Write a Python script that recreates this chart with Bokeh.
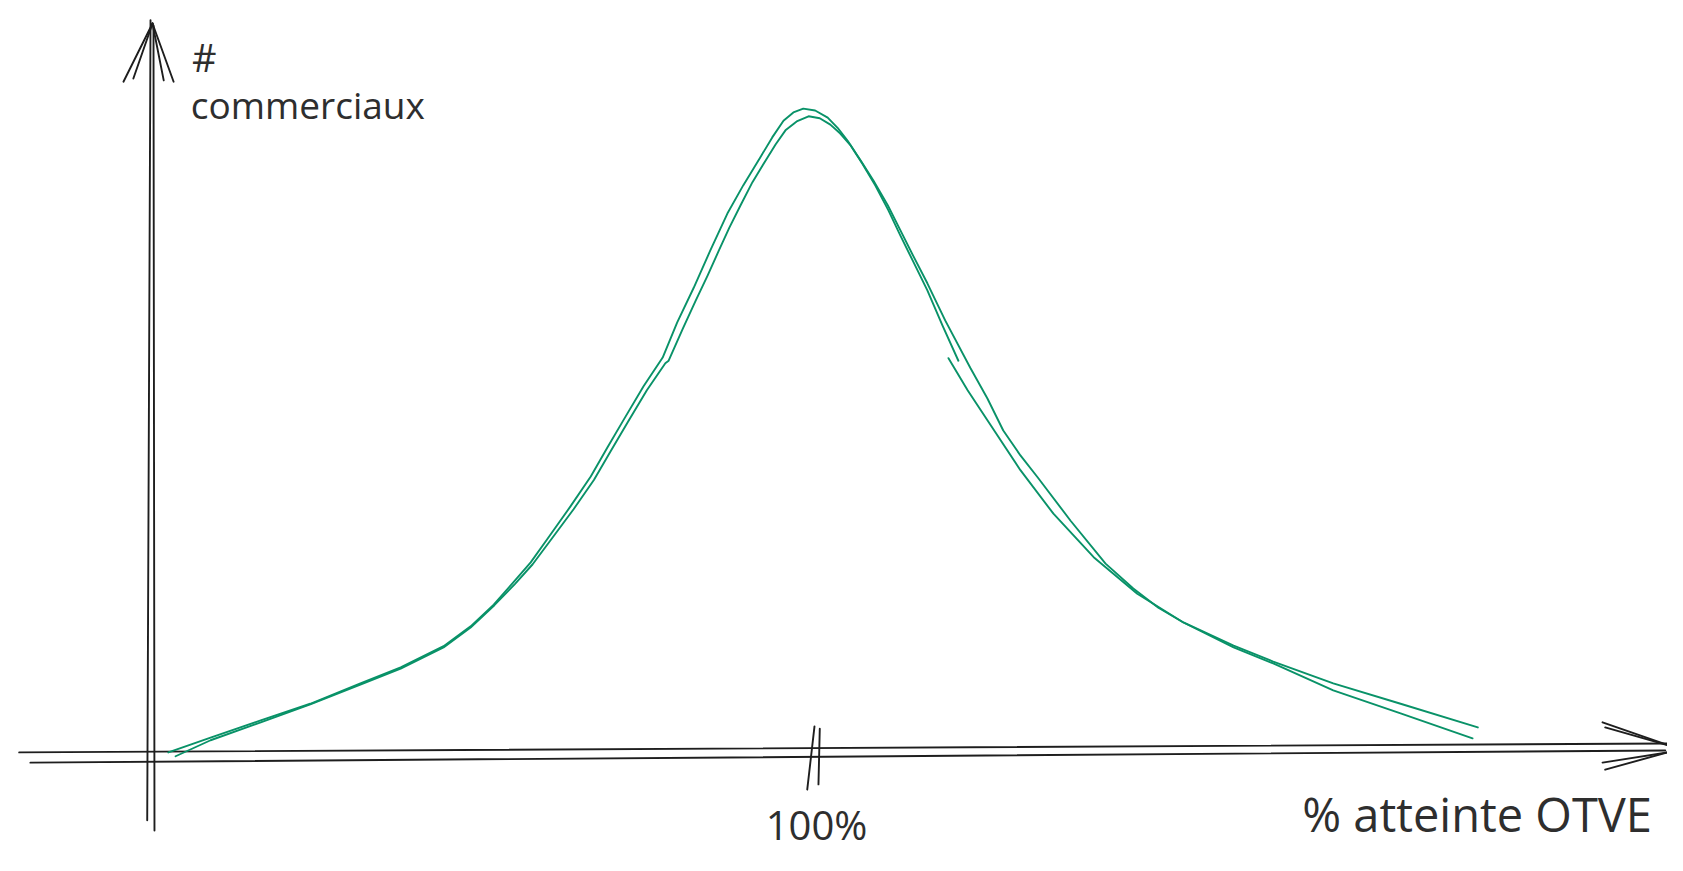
from bokeh.plotting import figure
from bokeh.models import Range1d
from bokeh.core.properties import value
from bokeh.embed import file_html
from bokeh.resources import INLINE

# --- distribution of sales reps (# commerciaux) vs % attainment of OTVE ---
# outer hand-drawn stroke (full curve)
outer_pct = [1.8, 8.2, 15.8, 23.3, 30.9, 37.0, 43.5, 47.6, 51.1, 54.1, 56.7, 59.2, 62.7,
             65.8, 68.3, 70.8, 73.8, 76.7, 78.9, 81.4, 83.9, 86.5, 88.9, 91.5, 93.3, 95.0,
             96.5, 98.0, 99.8, 101.7, 103.2, 104.7, 106.7, 108.6, 110.8, 112.7, 114.7,
             116.8, 119.5, 123.3, 125.9, 128.3, 130.9, 133.5, 138.5, 143.8, 148.0, 151.8,
             155.6, 163.2, 169.2, 178.3, 188.5, 200.2]
outer_cnt = [-0.3, 2.0, 4.7, 7.3, 10.5, 13.0, 16.3, 19.4, 22.8, 26.3, 29.4, 33.0, 38.1,
             42.8, 47.3, 51.7, 56.9, 61.4, 66.9, 72.3, 78.1, 83.9, 88.3, 92.7, 95.8, 98.4,
             99.7, 100.3, 100.0, 98.9, 97.3, 95.3, 92.2, 89.1, 85.2, 81.3, 77.2,
             73.0, 67.2, 59.8, 55.0, 50.0, 46.1, 42.7, 35.9, 29.2, 25.3, 22.3,
             20.0, 16.4, 13.9, 10.5, 7.3, 3.6]
# inner stroke, first piece (start -> past the peak)
inner1_pct = [2.9, 8.2, 15.8, 23.3, 30.9, 37.0, 43.5, 47.6, 51.2, 54.3, 57.0, 59.6, 63.2,
              66.3, 68.9, 71.4, 74.3, 77.1, 77.6, 79.7, 81.7, 83.5, 85.2, 86.8, 88.5, 90.3,
              92.3, 93.8, 95.3, 97.0, 98.8, 100.5, 102.1, 103.6, 105.2, 107.0, 108.9,
              110.9, 112.7, 114.7, 116.8, 119.1, 121.5]
inner1_cnt = [-0.9, 1.6, 4.4, 7.2, 10.3, 12.8, 16.1, 19.2, 22.7, 26.0, 29.1, 32.7, 37.7,
              42.3, 46.9, 51.3, 56.3, 60.5, 60.9, 65.8, 70.3, 74.2, 78.1, 81.7, 85.2, 88.8,
              92.2, 94.7, 96.9, 98.3, 99.1, 98.8, 97.8, 96.4, 94.5, 91.6, 88.3,
              84.4, 80.5, 76.3, 71.9, 66.4, 60.9]
# inner stroke, second piece (right tail)
inner2_pct = [120.0, 122.9, 125.9, 130.9, 135.9, 142.0, 148.6, 155.6, 163.2, 169.2, 178.3,
              188.5, 199.4]
inner2_cnt = [61.3, 56.3, 51.6, 43.8, 37.0, 30.2, 24.5, 20.0, 16.1, 13.6, 9.4, 5.8, 1.9]

# --- sketched axes ---
xaxis_a_pct = [-20.8, 229.1]
xaxis_a_cnt = [-0.3, 1.1]
xaxis_b_pct = [-19.1, 228.6]
xaxis_b_cnt = [-1.9, 0.0]
yaxis_a_pct = [-0.9, -1.4]
yaxis_a_cnt = [114.1, -10.9]
yaxis_b_pct = [-0.45, -0.3]
yaxis_b_cnt = [113.3, -12.5]

# arrow heads (each barb: from end to tip)
right_barbs_pct = [[219.1, 229.1], [219.5, 229.1], [219.1, 228.9], [219.5, 228.9]]
right_barbs_cnt = [[4.4, 0.8], [3.6, 0.8], [-1.9, -0.3], [-3.0, -0.3]]
top_barbs_pct = [[-5.0, -0.6], [-3.5, -0.6], [2.6, -0.6], [1.1, -0.6]]
top_barbs_cnt = [[104.5, 113.6], [105.0, 113.6], [104.5, 113.6], [104.7, 113.6]]

# tick at 100 %
tick_pct = [[99.7, 98.6], [100.5, 100.3]]
tick_cnt = [[3.75, -6.1], [3.4, -5.3]]

tick_label = "100%"
tick_label_pct = 100.0
x_title = "% atteinte OTVE"
y_title_1 = "#"
y_title_2 = "commerciaux"

GREEN = "#099268"
INK = "#1e1e1e"
TXT = "#2e2e2e"
FONT = "Open Sans"

p = figure(width=1667, height=855, output_backend="svg", toolbar_location=None,
           x_axis_type=None, y_axis_type=None, min_border=0,
           x_range=Range1d(-23.63, 228.94), y_range=Range1d(-16.41, 117.19))
p.outline_line_color = None
p.background_fill_color = "white"
p.border_fill_color = "white"

# axes
for xs, ys in [(xaxis_a_pct, xaxis_a_cnt), (xaxis_b_pct, xaxis_b_cnt),
               (yaxis_a_pct, yaxis_a_cnt), (yaxis_b_pct, yaxis_b_cnt)]:
    p.line(xs, ys, line_color=INK, line_width=1.9, line_cap="round")
p.multi_line(right_barbs_pct, right_barbs_cnt, line_color=INK, line_width=1.9, line_cap="round")
p.multi_line(top_barbs_pct, top_barbs_cnt, line_color=INK, line_width=1.9, line_cap="round")
p.multi_line(tick_pct, tick_cnt, line_color=INK, line_width=1.9, line_cap="round")

# curve
for xs, ys in [(outer_pct, outer_cnt), (inner1_pct, inner1_cnt), (inner2_pct, inner2_cnt)]:
    p.line(xs, ys, line_color=GREEN, line_width=1.9, line_cap="round", line_join="round")

# labels
p.text(x=[tick_label_pct], y=[-11.6], text=[tick_label], text_font=value(FONT),
       text_font_size="40px", text_color=TXT, text_align="center", text_baseline="alphabetic")
p.text(x=[173.6], y=[-10.0], text=[x_title], text_font=value(FONT),
       text_font_size="47px", text_color=TXT, text_align="left", text_baseline="alphabetic")
p.text(x=[5.4], y=[108.4], text=[y_title_1], text_font=value(FONT),
       text_font_size="38px", text_color=TXT, text_align="left", text_baseline="alphabetic")
p.text(x=[5.2], y=[100.9], text=[y_title_2], text_font=value(FONT),
       text_font_size="37px", text_color=TXT, text_align="left", text_baseline="alphabetic")

open("out.html", "w").write(file_html(p, INLINE))
